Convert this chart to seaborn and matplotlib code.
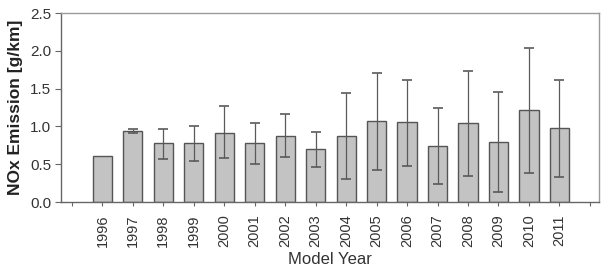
import numpy as np
import matplotlib
matplotlib.use('Agg')
import matplotlib.pyplot as plt
import seaborn as sns
import pandas as pd

# 모델 연도별 NOx 배출량 (평균, 오차 하한/상한)
years = ['1996', '1997', '1998', '1999', '2000', '2001', '2002', '2003',
         '2004', '2005', '2006', '2007', '2008', '2009', '2010', '2011']
nox_mean = [0.61, 0.94, 0.78, 0.78, 0.92, 0.78, 0.88, 0.70,
            0.87, 1.07, 1.06, 0.74, 1.04, 0.79, 1.22, 0.98]
err_low = [np.nan, 0.91, 0.57, 0.55, 0.58, 0.50, 0.60, 0.47,
           0.30, 0.42, 0.48, 0.24, 0.34, 0.14, 0.38, 0.33]
err_high = [np.nan, 0.97, 0.97, 1.00, 1.27, 1.05, 1.17, 0.93,
            1.44, 1.71, 1.62, 1.24, 1.74, 1.45, 2.04, 1.62]

df = pd.DataFrame({'year': years, 'nox': nox_mean})

plt.rcParams['font.family'] = ['Liberation Sans', 'DejaVu Sans']
text_col = '#333333'

# 양 끝에 빈 칸 하나씩
order = [' '] + years + ['  ']

fig = plt.figure(figsize=(6.08, 2.72), dpi=100)
ax = fig.add_axes([0.1003, 0.257, 0.8849, 0.695])

sns.barplot(data=df, x='year', y='nox', order=order, color='#c3c3c3',
            saturation=1, width=0.63, edgecolor='#555555', linewidth=1.0,
            errorbar=None, ax=ax)

# 오차 막대
pos = np.array([order.index(y) for y in years])
mean = np.array(nox_mean)
lo = mean - np.array(err_low)
hi = np.array(err_high) - mean
ax.errorbar(pos, mean, yerr=[lo, hi], fmt='none', ecolor='#5a5a5a',
            elinewidth=0.9, capsize=3.8, capthick=1.2, zorder=3)

ax.set_xlim(-0.36, 17.3)
ax.set_ylim(0, 2.5)
ax.set_yticks(np.arange(0, 2.51, 0.5))
ax.set_yticklabels([f'{v:.1f}' for v in np.arange(0, 2.51, 0.5)])
ax.set_xticks(range(len(order)))
ax.set_xticklabels(order, rotation=90)

for s in ['left', 'bottom']:
    ax.spines[s].set_color('#666666')
    ax.spines[s].set_linewidth(1.0)
for s in ['top', 'right']:
    ax.spines[s].set_color('#9a9a9a')
    ax.spines[s].set_linewidth(1.0)

ax.tick_params(axis='y', direction='out', length=4, color='#666666',
               labelsize=11, labelcolor=text_col, pad=3)
ax.tick_params(axis='x', direction='out', length=3, color='#666666',
               labelsize=10.5, labelcolor=text_col, pad=6)

ax.set_ylabel('NOx Emission [g/km]', fontsize=12.5, fontweight='bold',
              color='#222222', labelpad=5)
ax.set_xlabel('Model Year', fontsize=12, color=text_col, labelpad=3)

plt.savefig('out.png', dpi=100)
plt.close()
